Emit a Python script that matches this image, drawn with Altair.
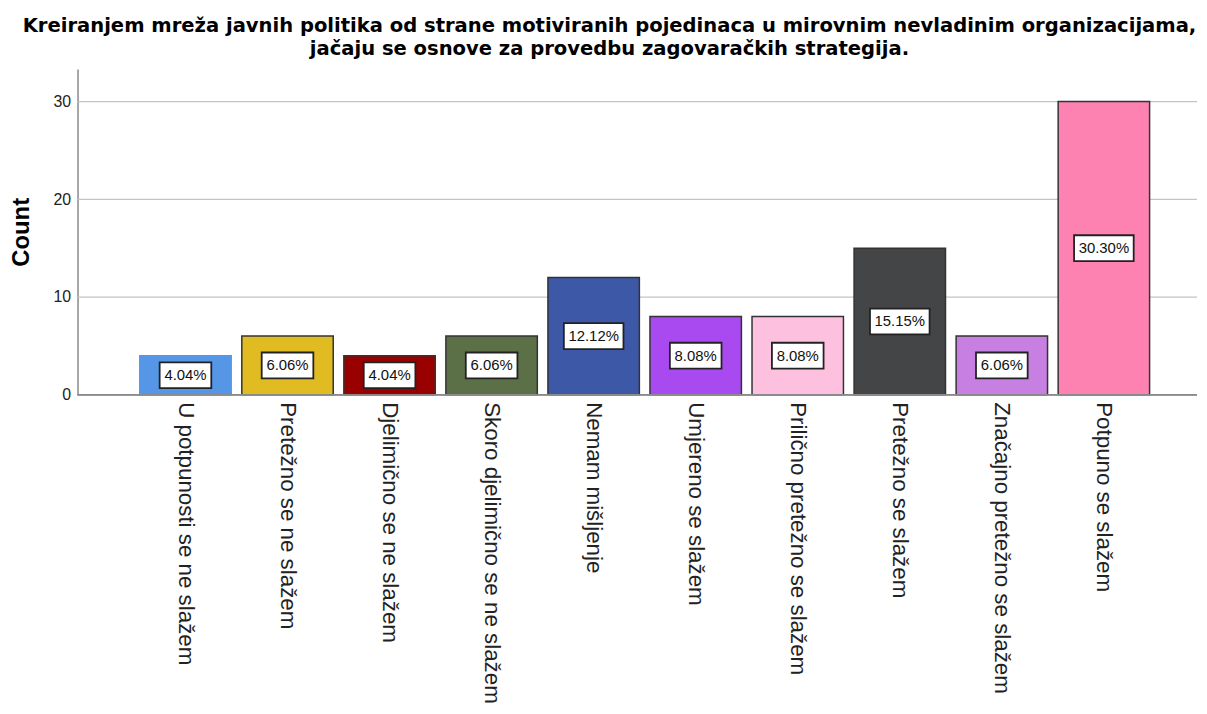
import altair as alt
import pandas as pd

categories = [
    "U potpunosti se ne slažem",
    "Pretežno se ne slažem",
    "Djelimično se ne slažem",
    "Skoro djelimično se ne slažem",
    "Nemam mišljenje",
    "Umjereno se slažem",
    "Prilično pretežno se slažem",
    "Pretežno se slažem",
    "Značajno pretežno se slažem",
    "Potpuno se slažem",
]
counts = [4, 6, 4, 6, 12, 8, 8, 15, 6, 30]
pct_labels = ["4.04%", "6.06%", "4.04%", "6.06%", "12.12%", "8.08%", "8.08%", "15.15%", "6.06%", "30.30%"]
y_ticks = [0, 10, 20, 30]
colors = ["#5597e6", "#e1bb22", "#990000", "#5b7047", "#3d58a7", "#a84af0",
          "#fdc1df", "#444547", "#c77fe2", "#fd82b2"]
strokes = ["#5597e6", "#333333", "#333333", "#333333", "#333333", "#333333",
           "#333333", "#333333", "#333333", "#333333"]

df = pd.DataFrame({"cat": categories, "count": counts, "pct": pct_labels, "stk": strokes})
grid_df = pd.DataFrame({"v": [t for t in y_ticks if t > 0]})

W, H = 1127, 328
xscale = alt.Scale(range=[57.3, 1084.6], paddingInner=0.104, paddingOuter=0.052)
x = alt.X(
    "cat:N",
    sort=categories,
    title=None,
    scale=xscale,
    axis=alt.Axis(
        labelAngle=90, labelAlign="left", labelBaseline="middle",
        labelFontSize=22.5, labelFont="Liberation Sans", labelColor="#222222",
        labelPadding=7, labelLimit=0, ticks=False, domain=False, grid=False,
    ),
)
yscale = alt.Scale(domain=[0, 33.34], nice=False)

gridlines = alt.Chart(grid_df).mark_rule(color="#c4c4c4", strokeWidth=1.3).encode(
    y=alt.Y("v:Q", scale=yscale),
    x=alt.value(0),
    x2=alt.value(W),
)

bars = alt.Chart(df).mark_bar(strokeWidth=1.5).encode(
    x=x,
    y=alt.Y(
        "count:Q", scale=yscale, title="Count",
        axis=alt.Axis(
            values=y_ticks, grid=False,
            ticks=False, labelFontSize=16, labelFont="Liberation Sans",
            labelColor="#222222", labelPadding=7,
            domainColor="#8a8a8a", domainWidth=1.5,
            titleFontSize=24, titleFont="Liberation Sans", titleFontWeight="bold",
            titleColor="#000000", titleX=-49, titleY=164, titleAngle=-90,
            titleAlign="center", titleBaseline="alphabetic",
        ),
    ),
    color=alt.Color("cat:N", scale=alt.Scale(domain=categories, range=colors), legend=None),
    stroke=alt.Stroke("stk:N", scale=None),
)

zero_line = alt.Chart(grid_df).mark_rule(color="#8a8a8a", strokeWidth=1.5).encode(
    y=alt.datum(0),
    x=alt.value(0),
    x2=alt.value(W),
)

base = alt.Chart(df).transform_calculate(
    mid="datum.count / 2",
    bw="length(datum.pct) * 8 + 12",
).transform_calculate(
    bsize="datum.bw * datum.bw",
    shp="'M-1,-' + (26 / datum.bw) + 'H1V' + (26 / datum.bw) + 'H-1Z'",
)

boxes = base.mark_point(filled=True, fill="white", stroke="#222222", strokeWidth=1.8, opacity=1).encode(
    x=alt.X("cat:N", sort=categories, scale=xscale),
    y=alt.Y("mid:Q", scale=yscale),
    size=alt.Size("bsize:Q", scale=None),
    shape=alt.Shape("shp:N", scale=None),
)

texts = base.mark_text(fontSize=15, font="Liberation Sans", color="#111111", baseline="middle").encode(
    x=alt.X("cat:N", sort=categories, scale=xscale),
    y=alt.Y("mid:Q", scale=yscale),
    text="pct:N",
)

chart = alt.layer(gridlines, bars, zero_line, boxes, texts).properties(
    width=W,
    height=H,
    autosize=alt.AutoSizeParams(type="none"),
    padding={"left": 70, "top": 59, "right": 2, "bottom": 311},
    title=alt.TitleParams(
        text=[
            "Kreiranjem mreža javnih politika od strane motiviranih pojedinaca u mirovnim nevladinim organizacijama,",
            "jačaju se osnove za provedbu zagovaračkih strategija.",
        ],
        fontSize=19.7, font="DejaVu Sans", fontWeight="bold", color="#000000",
        lineHeight=23, anchor="middle", dx=-28, offset=10,
    ),
).configure_view(stroke=None)

chart.save("out.html", embed_options={"renderer": "svg", "actions": False})
